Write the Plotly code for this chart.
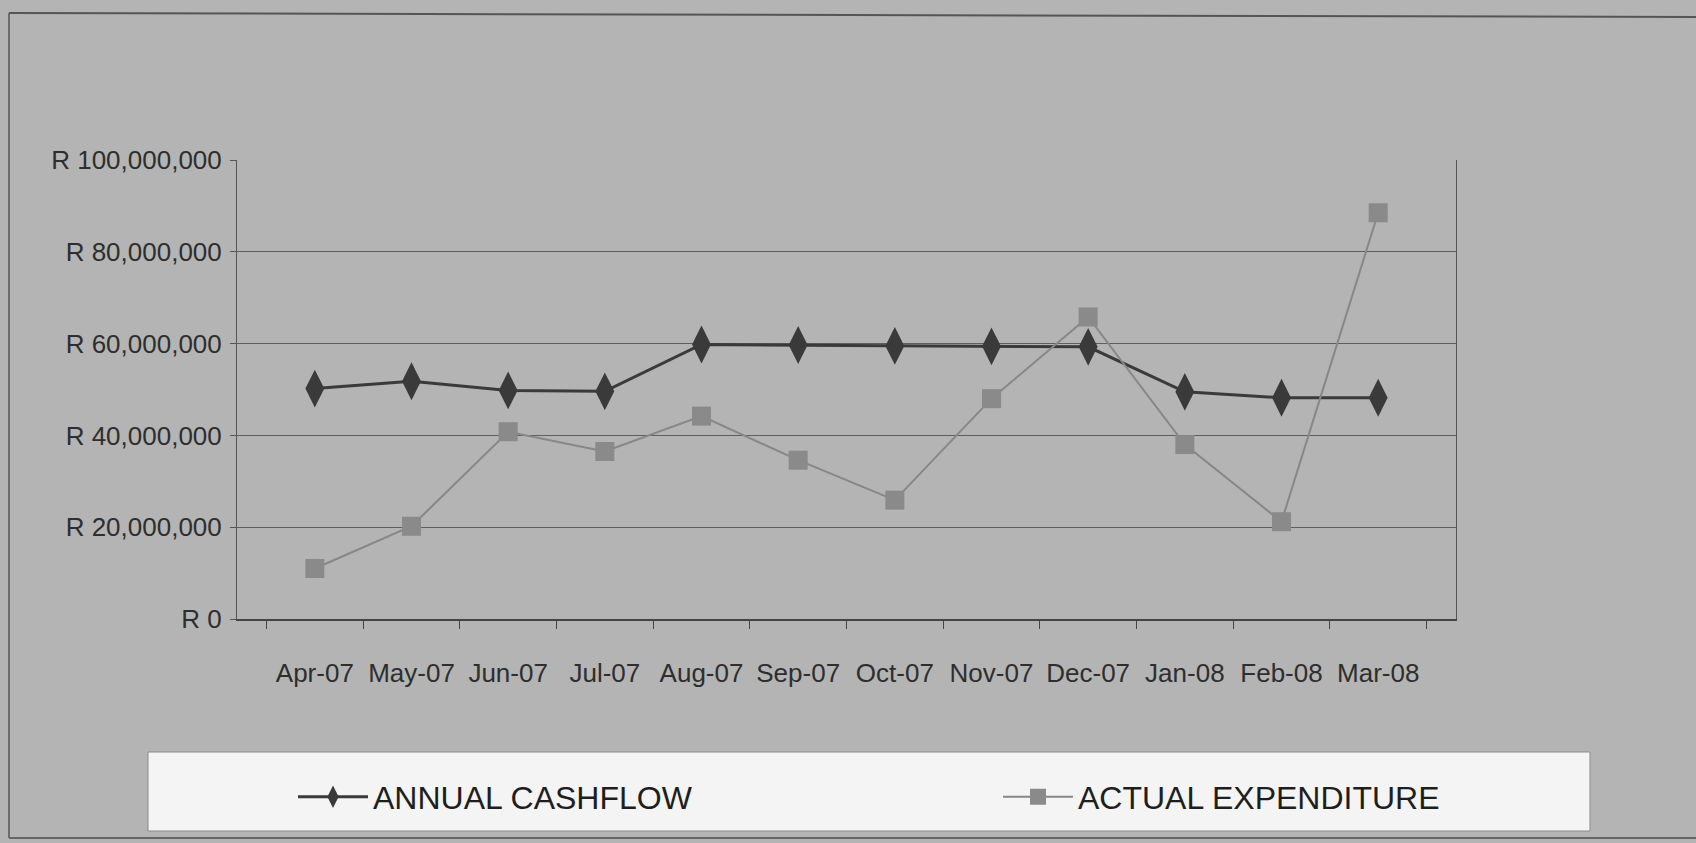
import plotly.graph_objects as go

months = ["Apr-07", "May-07", "Jun-07", "Jul-07", "Aug-07", "Sep-07",
          "Oct-07", "Nov-07", "Dec-07", "Jan-08", "Feb-08", "Mar-08"]
annual_cashflow = [50.2e6, 51.8e6, 49.8e6, 49.6e6, 59.8e6, 59.7e6,
                   59.5e6, 59.4e6, 59.3e6, 49.5e6, 48.2e6, 48.2e6]
actual_expenditure = [11.0e6, 20.2e6, 40.8e6, 36.5e6, 44.2e6, 34.6e6,
                      25.9e6, 48.0e6, 65.8e6, 38.0e6, 21.2e6, 88.5e6]
series_names = ["ANNUAL CASHFLOW", "ACTUAL EXPENDITURE"]

FONT = "Liberation Sans, Arial, sans-serif"
BG = "#b4b4b4"

W, H = 1696, 843
L, R, T, B = 237, 240, 160, 224
PW, PH = W - L - R, H - T - B

def px(x):
    return (x - L) / PW

def py(y):
    return (H - B - y) / PH

fig = go.Figure()
fig.add_trace(go.Scatter(
    x=months, y=annual_cashflow, name=series_names[0], mode="lines+markers",
    line=dict(color="#3a3a3a", width=3),
    marker=dict(symbol="diamond-tall", size=27, color="#3a3a3a"),
    legendwidth=620,
))
fig.add_trace(go.Scatter(
    x=months, y=actual_expenditure, name=series_names[1], mode="lines+markers",
    line=dict(color="#878787", width=2),
    marker=dict(symbol="square", size=19, color="#8a8a8a"),
    legendwidth=380,
))

shapes = [
    # legend box
    dict(type="rect", xref="paper", yref="paper",
         x0=px(148), x1=px(1590), y0=py(831), y1=py(752),
         fillcolor="#f4f4f4", line=dict(color="#8a8a8a", width=1), layer="below"),
    # outer frame lines
    dict(type="line", xref="paper", yref="paper",
         x0=px(9), x1=px(9), y0=py(838), y1=py(13),
         line=dict(color="#555555", width=1.5)),
    dict(type="line", xref="paper", yref="paper",
         x0=px(9), x1=px(1696), y0=py(13), y1=py(17),
         line=dict(color="#555555", width=2)),
    dict(type="line", xref="paper", yref="paper",
         x0=px(9), x1=px(1696), y0=py(838), y1=py(838),
         line=dict(color="#666666", width=2)),
]

fig.update_layout(
    width=W, height=H,
    margin=dict(l=L, r=R, t=T, b=B, autoexpand=False),
    paper_bgcolor=BG, plot_bgcolor=BG,
    font=dict(family=FONT, color="#2e2e2e", size=26),
    showlegend=True,
    legend=dict(
        orientation="h", xref="container", yref="container",
        x=293 / W, xanchor="left", y=1 - 797 / H, yanchor="middle",
        bgcolor="rgba(0,0,0,0)", borderwidth=0,
        font=dict(family=FONT, size=32, color="#1e1e1e"),
        itemwidth=70, traceorder="normal",
    ),
    shapes=shapes,
    xaxis=dict(
        type="category", showgrid=False, showline=True, linecolor="#444444",
        linewidth=1.5, ticks="outside", ticklen=8, tickcolor="#444444",
        tickson="boundaries", tickangle=0,
        tickfont=dict(size=26, family=FONT, color="#2e2e2e"),
        ticklabelstandoff=30, zeroline=False,
    ),
    yaxis=dict(
        range=[0, 100e6], dtick=20e6, tick0=0, tickprefix="R ",
        tickformat=",.0f", showgrid=True, gridcolor="#5e5e5e", gridwidth=1,
        showline=True, mirror=True, linecolor="#555555", linewidth=1,
        ticks="outside", ticklen=6, tickcolor="#555555",
        tickfont=dict(size=26, family=FONT, color="#2e2e2e"),
        ticklabelstandoff=3, zeroline=False,
    ),
)

fig.write_html("out.html", config={"displayModeBar": False},
               post_script="document.body.style.margin='0';")
